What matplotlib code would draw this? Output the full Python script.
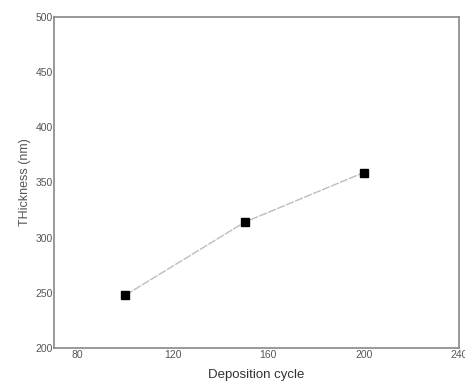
import matplotlib
matplotlib.use("Agg")
import matplotlib.pyplot as plt

cycles = [100, 150, 200]
thickness = [248, 314, 359]
x_ticks = [80, 120, 160, 200, 240]
y_ticks = [200, 250, 300, 350, 400, 450, 500]

plt.rcParams["font.family"] = ["Liberation Sans", "DejaVu Sans"]

fig = plt.figure(figsize=(4.65, 3.83), dpi=100)
ax = fig.add_axes([0.116, 0.091, 0.871, 0.865])

ax.plot(cycles, thickness, color="#bdbdbd", lw=1.0, ls=(0, (6, 1)),
        marker="s", ms=5.5, mfc="black", mec="black", zorder=3)

ax.set_xlim(70, 238.8)
ax.set_ylim(200, 500)
ax.set_xticks(x_ticks)
ax.set_yticks(y_ticks)
ax.tick_params(length=0, labelsize=7.5, labelcolor="#555555", pad=1)
for s in ax.spines.values():
    s.set_color("#888888")
    s.set_linewidth(1.2)

ax.set_xlabel("Deposition cycle", fontsize=9.5, color="#333333", labelpad=7)
ax.set_ylabel("THickness (nm)", fontsize=9, color="#555555", labelpad=3)

fig.savefig("out.png", dpi=100)
